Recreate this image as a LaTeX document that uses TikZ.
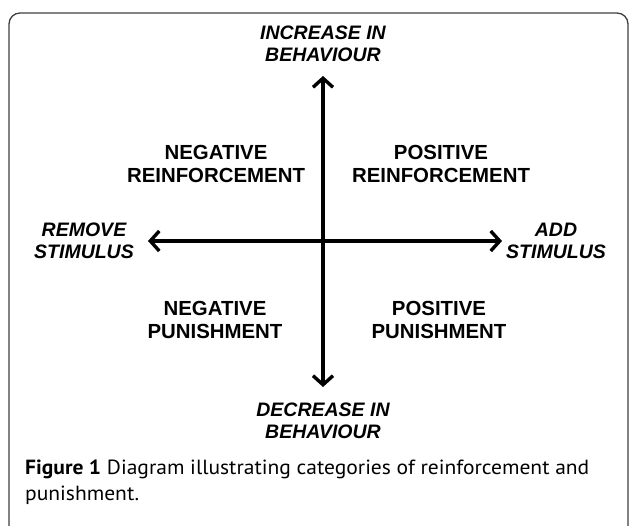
\documentclass[tikz,border=0pt]{standalone}
\usepackage{fontspec}
\setmainfont{Liberation Sans}
\newfontfamily\capfont[FakeStretch=1.05]{PT Sans}
\usetikzlibrary{arrows.meta}
\tikzset{
  axislabel/.style={align=center, inner sep=0pt, font=\fontsize{19.5}{22}\selectfont\bfseries\itshape},
  quadlabel/.style={align=center, inner sep=0pt, font=\fontsize{20.4}{23.5}\selectfont\bfseries},
  barbtip/.tip={Straight Barb[length=9pt,width=20pt,line width=3.4pt]},
  axisarrow/.style={line width=3.4pt, barbtip-barbtip},
  frame/.style={draw=black!75, line width=1.3pt, rounded corners=11pt},
  captext/.style={anchor=base west, inner sep=0pt, font=\capfont\fontsize{20.5}{24}\selectfont}
}
\begin{document}
\begin{tikzpicture}[x=1pt,y=1pt]
\useasboundingbox (0,0) rectangle (629,525);
\clip (0,0) rectangle (629,525);
\fill[white] (0,0) rectangle (629,525);
\draw[frame] (9,-20) rectangle (628,512);
% axis end points
\coordinate (top) at (323,449);
\coordinate (bottom) at (323,138);
\coordinate (left) at (148,284);
\coordinate (right) at (502,284);
\draw[axisarrow] (bottom) -- (top);
\draw[axisarrow] (left) -- (right);
% axis labels
\node[axislabel] (inc) at (323,481) {INCREASE IN\\BEHAVIOUR};
\node[axislabel] (dec) at (323,104) {DECREASE IN\\BEHAVIOUR};
\node[axislabel] (rem) at (84,284) {REMOVE\\STIMULUS};
\node[axislabel] (add) at (556,284) {ADD\\STIMULUS};
% quadrant labels
\node[quadlabel] (nr) at (216,361) {NEGATIVE\\REINFORCEMENT};
\node[quadlabel] (pr) at (441,361) {POSITIVE\\REINFORCEMENT};
\node[quadlabel] (np) at (215,205) {NEGATIVE\\PUNISHMENT};
\node[quadlabel] (pp) at (439,205) {POSITIVE\\PUNISHMENT};
% caption
\node[captext] (cap1) at (25,51) {\textbf{Figure 1} Diagram illustrating categories of reinforcement and};
\node[captext] (cap2) at (25,25) {punishment.};
\end{tikzpicture}
\end{document}
